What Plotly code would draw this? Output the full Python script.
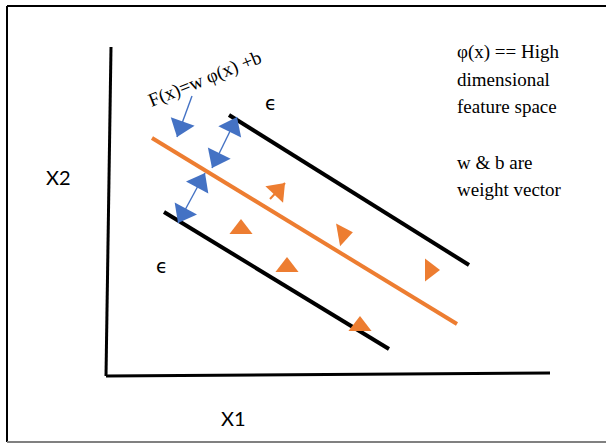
import math
import plotly.graph_objects as go

# ---- diagram geometry (pixel-space data coordinates) ----
axis_x1_x = [106, 550]
axis_x1_y = [376, 373]
axis_x2_x = [111, 106]
axis_x2_y = [47, 376]

hyperplane_x = [152, 457]
hyperplane_y = [138, 324]
upper_margin_x = [229, 469]
upper_margin_y = [115, 265]
lower_margin_x = [164, 389]
lower_margin_y = [212, 349]

point_x = [241, 343, 287, 430, 360]
point_y = [229, 234, 267, 270, 326]
point_angle = [0, 80, 0, 90, 0]

# arrows: (start, tip); double-headed ones get heads at both ends
arrow_upper = [(212, 168), (237, 117)]
arrow_lower = [(205, 173), (178, 223)]
arrow_label = [(192, 96), (177, 137)]
arrow_point = [(270, 199), (285, 183)]

right_text = ["φ(x) == High", "dimensional", "feature space", "w & b are", "weight vector"]
right_text_y = [52, 79, 106, 162, 189]

ORANGE = "#ED7D31"
BLUE = "#4472C4"

fig = go.Figure()

def line(xs, ys, color, width):
    fig.add_trace(go.Scatter(x=xs, y=ys, mode="lines",
                             line=dict(color=color, width=width),
                             hoverinfo="skip", showlegend=False))

def arrow(p0, p1, color, width, head, double):
    line([p0[0], p1[0]], [p0[1], p1[1]], color, width)
    ends = [(p0, p1)] + ([(p1, p0)] if double else [])
    for a, b in ends:
        dx, dy = b[0] - a[0], b[1] - a[1]
        L = math.hypot(dx, dy)
        off = head / 2.0
        cx, cy = b[0] - dx / L * off, b[1] - dy / L * off
        ang = math.degrees(math.atan2(dx, -dy))
        fig.add_trace(go.Scatter(
            x=[cx], y=[cy], mode="markers",
            marker=dict(symbol="triangle-up", size=head, color=color, opacity=1,
                        angle=ang, line=dict(width=0)),
            hoverinfo="skip", showlegend=False))

line(axis_x1_x, axis_x1_y, "black", 3)
line(axis_x2_x, axis_x2_y, "black", 3)
line(upper_margin_x, upper_margin_y, "black", 4)
line(lower_margin_x, lower_margin_y, "black", 4)
line(hyperplane_x, hyperplane_y, ORANGE, 4)

fig.add_trace(go.Scatter(x=point_x, y=point_y, mode="markers",
                         marker=dict(symbol="triangle-up", size=20, color=ORANGE,
                                     angle=point_angle, line=dict(width=0)),
                         hoverinfo="skip", showlegend=False))

arrow(arrow_upper[0], arrow_upper[1], BLUE, 1.4, 22, True)
arrow(arrow_lower[0], arrow_lower[1], BLUE, 1.4, 22, True)
arrow(arrow_label[0], arrow_label[1], BLUE, 1.4, 22, False)
arrow(arrow_point[0], arrow_point[1], ORANGE, 2, 21, False)

anns = []
serif = "Liberation Serif"
for t, y in zip(right_text, right_text_y):
    anns.append(dict(x=455, y=y, text=t, showarrow=False, xanchor="left",
                     yanchor="middle", xref="x", yref="y",
                     font=dict(family=serif, size=19, color="black")))

anns.append(dict(x=205, y=79, text="F(x)=w φ(x) +b", textangle=-22, showarrow=False,
                 xref="x", yref="y", font=dict(family=serif, size=19, color="black")))
anns.append(dict(x=271, y=103, text="ϵ", showarrow=False, xref="x", yref="y",
                 font=dict(family="DejaVu Sans", size=19, color="black")))
anns.append(dict(x=162, y=266, text="ϵ", showarrow=False, xref="x", yref="y",
                 font=dict(family="DejaVu Sans", size=19, color="black")))
anns.append(dict(x=58, y=177, text="X2", showarrow=False, xref="x", yref="y",
                 font=dict(family="Lato", size=20, color="black")))
anns.append(dict(x=233, y=418, text="X1", showarrow=False, xref="x", yref="y",
                 font=dict(family="Lato", size=20, color="black")))

shapes = [
    dict(type="line", x0=7, y0=6, x1=606, y1=6, xref="x", yref="y",
         line=dict(color="black", width=2)),
    dict(type="line", x0=7, y0=6, x1=7, y1=442, xref="x", yref="y",
         line=dict(color="black", width=2)),
    dict(type="line", x0=7, y0=442, x1=606, y1=442, xref="x", yref="y",
         line=dict(color="#808080", width=2)),
]

fig.update_layout(
    width=606, height=443, margin=dict(l=0, r=0, t=0, b=0),
    paper_bgcolor="white", plot_bgcolor="white",
    xaxis=dict(range=[0, 606], visible=False, fixedrange=True),
    yaxis=dict(range=[443, 0], visible=False, fixedrange=True),
    annotations=anns, shapes=shapes, showlegend=False,
)

fig.write_html("out.html")
